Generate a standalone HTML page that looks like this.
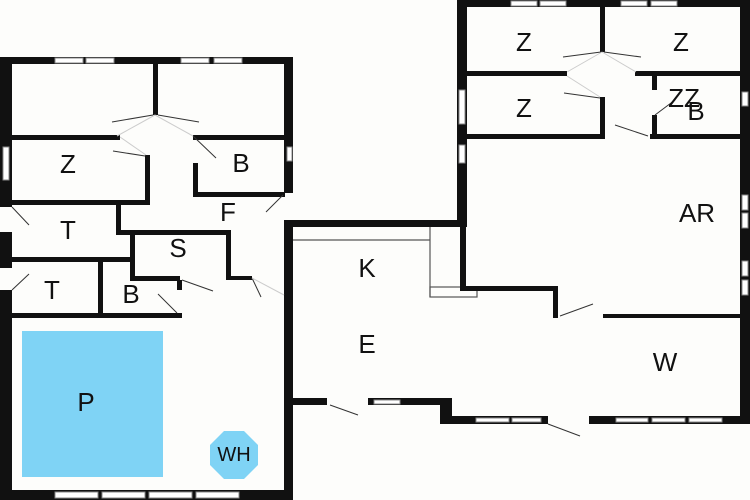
<!DOCTYPE html>
<html><head><meta charset="utf-8"><style>
html,body{margin:0;padding:0;background:#fff;}
svg{display:block}
text{font-family:"Liberation Sans",sans-serif;font-size:26px;fill:#111;text-anchor:middle;dominant-baseline:central}
</style></head><body>
<svg width="750" height="500" viewBox="0 0 750 500" xmlns="http://www.w3.org/2000/svg">
<rect width="750" height="500" fill="#fdfdfb"/>
<!-- pool -->
<rect x="22" y="331" width="141" height="146" fill="#7fd3f5"/>
<polygon points="224,431 244,431 258,445 258,465 244,479 224,479 210,465 210,445" fill="#7fd3f5"/>
<!-- kitchen thin lines -->
<g stroke="#555" stroke-width="1.2" fill="none">
<line x1="293" y1="240" x2="430" y2="240"/>
<line x1="430" y1="227" x2="430" y2="297"/>
<rect x="430" y="287" width="47" height="10"/>
<line x1="285" y1="227" x2="285" y2="398"/>
</g>
<g fill="#111">
<!-- left building -->
<rect x="0" y="57" width="293" height="7"/>
<rect x="0" y="57" width="12" height="150"/>
<rect x="0" y="232" width="12" height="36"/>
<rect x="0" y="290" width="12" height="210"/>
<rect x="284" y="57" width="9" height="136"/>
<rect x="284" y="398" width="9" height="102"/>
<rect x="0" y="490" width="293" height="10"/>
<rect x="153" y="57" width="5" height="58"/>
<rect x="12" y="135" width="108" height="5"/>
<rect x="193" y="135" width="92" height="5"/>
<rect x="145" y="155" width="5" height="50"/>
<rect x="12" y="200" width="138" height="5"/>
<rect x="193" y="163" width="5" height="33"/>
<rect x="193" y="192" width="92" height="5"/>
<rect x="116" y="202" width="5" height="31"/>
<rect x="116" y="230" width="114" height="5"/>
<rect x="130" y="230" width="5" height="50"/>
<rect x="130" y="276" width="50" height="5"/>
<rect x="226" y="230" width="5" height="50"/>
<rect x="226" y="276" width="26" height="4"/>
<rect x="12" y="257" width="120" height="5"/>
<rect x="98" y="257" width="5" height="60"/>
<rect x="12" y="313" width="170" height="5"/>
<rect x="177" y="280" width="5" height="10"/>
<!-- middle -->
<rect x="284" y="220" width="183" height="7"/>
<rect x="284" y="220" width="9" height="180"/>
<rect x="284" y="398" width="43" height="7"/>
<rect x="368" y="398" width="84" height="7"/>
<rect x="440" y="398" width="12" height="26"/>
<rect x="440" y="416" width="108" height="8"/>
<rect x="589" y="416" width="161" height="8"/>
<!-- right building -->
<rect x="457" y="0" width="293" height="7"/>
<rect x="457" y="0" width="10" height="227"/>
<rect x="460" y="225" width="6" height="63"/>
<rect x="740" y="0" width="10" height="424"/>
<rect x="600" y="0" width="5" height="52"/>
<rect x="467" y="71" width="100" height="5"/>
<rect x="635" y="71" width="105" height="5"/>
<rect x="600" y="97" width="5" height="41"/>
<rect x="467" y="134" width="138" height="5"/>
<rect x="650" y="134" width="90" height="5"/>
<rect x="652" y="76" width="5" height="14"/>
<rect x="652" y="115" width="5" height="22"/>
<rect x="460" y="286" width="98" height="5"/>
<rect x="553" y="286" width="5" height="32"/>
<rect x="553" y="314" width="5" height="4"/>
<rect x="603" y="314" width="137" height="4"/>
</g>
<!-- windows -->
<g fill="#fff" stroke="#888" stroke-width="1">
<rect x="55" y="58" width="28" height="5"/><rect x="86" y="58" width="28" height="5"/>
<rect x="181" y="58" width="28" height="5"/><rect x="214" y="58" width="28" height="5"/>
<rect x="3" y="147" width="6" height="33"/>
<rect x="287" y="147" width="5" height="14"/>
<rect x="55" y="492" width="43" height="6"/><rect x="102" y="492" width="43" height="6"/>
<rect x="149" y="492" width="43" height="6"/><rect x="196" y="492" width="43" height="6"/>
<rect x="511" y="1" width="26" height="5"/><rect x="540" y="1" width="26" height="5"/>
<rect x="621" y="1" width="26" height="5"/><rect x="651" y="1" width="26" height="5"/>
<rect x="459" y="90" width="6" height="34"/><rect x="459" y="145" width="6" height="18"/>
<rect x="742" y="92" width="6" height="14"/>
<rect x="742" y="195" width="6" height="15"/><rect x="742" y="213" width="6" height="15"/>
<rect x="742" y="261" width="6" height="15"/><rect x="742" y="280" width="6" height="15"/>
<rect x="374" y="400" width="26" height="4"/>
<rect x="476" y="418" width="33" height="4"/><rect x="512" y="418" width="29" height="4"/>
<rect x="616" y="418" width="32" height="4"/><rect x="652" y="418" width="33" height="4"/>
<rect x="689" y="418" width="33" height="4"/>
</g>
<!-- door swings -->
<g stroke="#333" stroke-width="1" fill="none">
<line x1="153" y1="115" x2="112" y2="122"/><line x1="158" y1="115" x2="199" y2="122"/>
<line x1="113" y1="151" x2="145" y2="156"/><line x1="193" y1="136" x2="216" y2="158"/>
<line x1="12" y1="207" x2="29" y2="225"/><line x1="12" y1="290" x2="29" y2="274"/>
<line x1="266" y1="212" x2="283" y2="195"/>
<line x1="182" y1="280" x2="213" y2="291"/><line x1="158" y1="294" x2="177" y2="313"/>
<line x1="252" y1="278" x2="261" y2="297"/>
<line x1="330" y1="405" x2="358" y2="415"/><line x1="548" y1="424" x2="580" y2="436"/>
<line x1="560" y1="316" x2="593" y2="304"/>
<line x1="601" y1="52" x2="563" y2="57"/><line x1="604" y1="52" x2="641" y2="57"/>
<line x1="564" y1="93" x2="600" y2="98"/><line x1="615" y1="125" x2="648" y2="136"/>
<line x1="655" y1="115" x2="675" y2="100"/>
</g>
<g stroke="#ccc" stroke-width="1" fill="none">
<line x1="155" y1="115" x2="117" y2="136"/><line x1="155" y1="115" x2="193" y2="136"/>
<line x1="120" y1="137" x2="146" y2="155"/>
<line x1="602" y1="52" x2="567" y2="72"/><line x1="602" y1="52" x2="636" y2="72"/>
<line x1="567" y1="76" x2="600" y2="97"/>
<line x1="252" y1="278" x2="284" y2="295"/>
</g>
<text x="68" y="164">Z</text>
<text x="241" y="163">B</text>
<text x="228" y="212">F</text>
<text x="68" y="230">T</text>
<text x="178" y="248">S</text>
<text x="52" y="290">T</text>
<text x="131" y="294">B</text>
<text x="86" y="402">P</text>
<text x="234" y="455" style="font-size:20px">WH</text>
<text x="367" y="268">K</text>
<text x="367" y="344">E</text>
<text x="665" y="362">W</text>
<text x="697" y="213">AR</text>
<text x="524" y="42">Z</text>
<text x="681" y="42">Z</text>
<text x="524" y="108">Z</text>
<text x="684" y="98">ZZ</text>
<text x="696" y="111">B</text>
</svg>
</body></html>
